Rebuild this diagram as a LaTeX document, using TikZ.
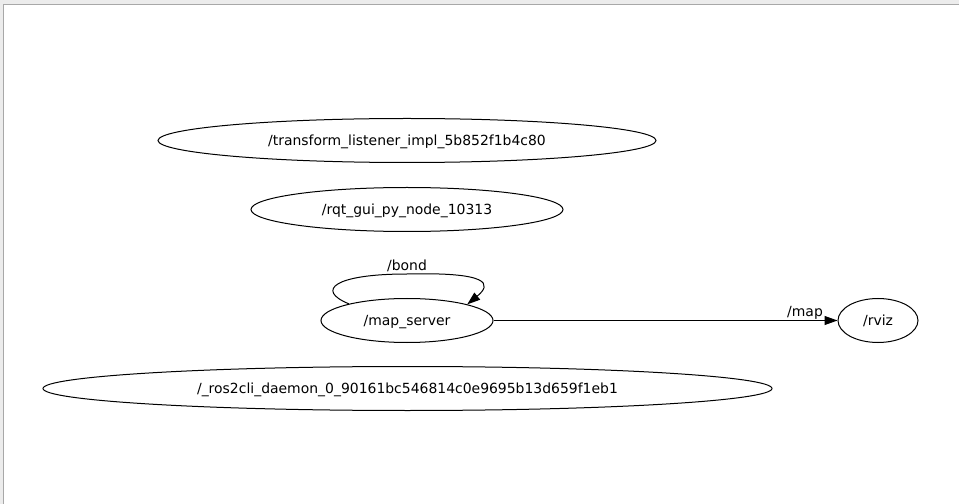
\documentclass[tikz,border=0pt]{standalone}
\usepackage{fontspec}
\setmainfont{DejaVu Sans}
\usetikzlibrary{shapes.geometric,arrows.meta}
\definecolor{framebg}{HTML}{ECECEC}
\definecolor{frameline}{HTML}{A8A8A8}
\begin{document}
\begin{tikzpicture}[x=1bp,y=-1bp,
  rosnode/.style={draw, ellipse, line width=1bp, inner sep=0pt, minimum height=44bp,
    text height=12bp, text depth=1.7bp,
    font=\fontsize{14}{16}\selectfont},
  lbl/.style={inner sep=0pt, text height=12bp, text depth=1.7bp, font=\fontsize{14}{16}\selectfont},
  edge/.style={line width=1bp, -{Triangle[length=13bp,width=9bp]}}]
\useasboundingbox (0,0) rectangle (959,504);
\fill[framebg] (0,0) rectangle (959,504);
\fill[white] (3.5,4.5) rectangle (959,504);
\draw[frameline, line width=1bp] (3.5,504) -- (3.5,4.5) -- (959,4.5);

\node[rosnode, minimum width=498bp] (tl) at (407,140.5) {/transform\_listener\_impl\_5b852f1b4c80};
\node[rosnode, minimum width=312bp] (rqt) at (407,209.5) {/rqt\_gui\_py\_node\_10313};
\node[rosnode, minimum width=172bp] (ms) at (407,320.5) {/map\_server};
\node[rosnode, minimum width=80bp] (rviz) at (878,320.5) {/rviz};
\node[rosnode, minimum width=729bp] (cli) at (407.5,388.5) {/\_ros2cli\_daemon\_0\_90161bc546814c0e9695b13d659f1eb1};

\draw[edge] (ms.east) -- (rviz.west);
\node[lbl] (maplbl) at (805,311) {/map};

\draw[edge] (ms.164) .. controls (315,290) and (335,274) .. (407,274)
  .. controls (490,272) and (492,284) .. (ms.15);
\node[lbl] (bondlbl) at (407,265) {/bond};
\end{tikzpicture}
\end{document}
